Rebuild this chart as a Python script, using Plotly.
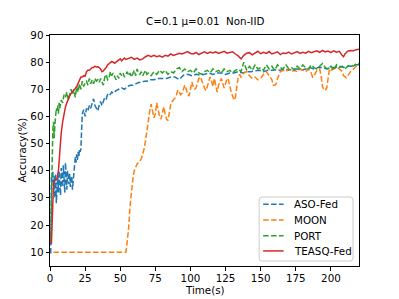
import plotly.graph_objects as go

# ---------------- data ----------------
aso_x = [0.5, 1, 1.5, 2, 2.5, 3, 3.5, 4, 4.5, 5, 5.5, 6, 6.5, 7, 7.5, 8, 8.5, 9, 9.5, 10,
         10.5, 11, 11.5, 12, 12.5, 13, 13.5, 14, 14.5, 15, 15.5, 16, 16.5, 17, 17.5, 18, 18.5,
         19, 19.5, 20, 20.5, 21, 21.5, 22, 22.5, 23, 24, 25, 26, 27, 28, 29, 30, 31, 32, 33,
         34, 35, 36, 37, 38, 39, 40, 41, 42, 43, 44, 45, 47, 49, 51, 53, 55, 57, 59, 61, 63,
         65, 67, 69, 71, 74, 77, 80, 83, 86, 89, 92, 95, 98, 101, 104, 107, 110, 113, 116,
         119, 122, 125, 128, 131, 134, 137, 140, 143, 146, 149, 152, 155, 158, 161, 164, 167,
         170, 173, 176, 179, 182, 185, 188, 191, 194, 197, 200, 203, 206, 209, 212, 215, 218, 220]
aso_y = [9.5, 38, 36, 40, 33, 38, 30, 39, 28, 36, 38, 32, 40, 35, 31, 41, 37, 34, 42, 36,
         32, 43, 38, 33, 40, 36, 35, 39, 34, 37, 38, 33, 36, 37, 40, 45, 43, 46, 44, 47,
         45, 48, 47, 48, 55, 61, 62.5, 60, 63, 62, 64, 63, 65, 66.5, 64, 63, 62, 64, 65.5,
         64, 66, 67, 66.5, 68, 67.5, 68.5, 69, 68.5, 69.5, 70, 70.5, 70, 71, 71.5, 71.5, 72,
         72.5, 72.5, 73, 73, 73.5, 73.5, 74, 74, 74, 74.5, 74.5, 73.6, 75.2, 75.5, 75, 75.5,
         75.2, 75.5, 76, 75.5, 76, 76, 75.5, 76, 76, 76.5, 76, 76.5, 76.5, 76.8, 77, 76.5,
         77, 77, 77.2, 77, 77.5, 77, 77.5, 77.5, 77, 77.5, 78, 77.5, 78, 78, 77.5, 78, 78,
         78.5, 78, 78.5, 78.5, 79, 79]

moon_x = [2.5, 54, 55, 56, 57, 58, 59, 60, 61, 62, 63, 64, 65, 66, 67, 68, 69, 70, 71, 72,
          73, 74, 75, 76, 77, 78, 79, 80, 81, 82, 83, 84, 85, 86, 87, 88, 89, 90, 91, 92, 93,
          94, 95, 96, 97, 98, 99, 100, 101, 102, 103, 104, 105, 106, 107, 108, 109, 110, 111,
          112, 113, 114, 115, 116, 117, 118, 119, 120, 121, 122, 123, 124, 125, 126, 127, 128,
          129, 130, 131, 132, 133, 134, 135, 136, 138, 140, 142, 144, 146, 148, 150, 152, 154,
          156, 158, 159, 160, 161, 162, 164, 166, 168, 170, 172, 174, 176, 178, 180, 182, 184,
          186, 187, 188, 190, 192, 193, 194, 195, 196, 197, 198, 199, 200, 202, 204, 206, 208,
          209, 210, 211, 212, 214, 216, 218, 220]
moon_y = [10, 10, 14, 19, 27, 33, 37, 40, 41.5, 42.5, 43, 43.5, 44.5, 46, 48, 51, 55, 58, 62,
          64.5, 62, 59.5, 61, 65, 62.5, 60, 59, 61, 63.5, 61, 59, 58.5, 61, 64.5, 65.5, 66,
          66.8, 68, 69.7, 69, 68, 68.5, 70, 71.5, 70, 68, 67.5, 70, 72.7, 71, 70, 70.5, 72.5,
          74, 74.6, 73.5, 72, 70.5, 69.5, 71, 73, 74.5, 73, 71, 74, 72, 69, 71.5, 73, 74, 72,
          70.5, 72, 74, 73.5, 71, 69, 67.5, 66, 67, 71, 74.5, 75.5, 74.5, 76, 76.5, 75, 74,
          74.5, 73.5, 74, 75.5, 76.5, 75, 73.5, 71.5, 71.5, 72, 74, 76.5, 77, 76.5, 77.5, 76.5,
          77, 76.5, 77.5, 77, 76.5, 77.5, 76, 74.5, 75, 77, 77.5, 75, 71, 70, 69.5, 70.5, 75,
          77.5, 77, 77.5, 78, 77.5, 76.5, 75, 74.5, 74.3, 75, 76.5, 77.5, 78.5, 79.5]

port_x = [0.5, 1, 1.5, 2, 2.5, 3, 3.5, 4, 4.5, 5, 5.5, 6, 6.5, 7, 8, 9, 10, 11, 12, 13, 14,
          15, 16, 17, 18, 19, 20, 21, 22, 23, 24, 25, 26, 27, 28, 29, 30, 31, 32, 33, 34, 35,
          36, 37, 38, 39, 40, 41, 42, 43, 44, 45, 46, 47, 48, 49, 50, 51, 52, 53, 54, 55, 56,
          57, 58, 59, 60, 61, 62, 63, 64, 65, 66, 67, 68, 69, 70, 72, 74, 76, 78, 80, 82, 84,
          86, 88, 90, 92, 94, 96, 98, 100, 102, 104, 106, 108, 110, 112, 114, 116, 118, 120,
          122, 124, 126, 128, 130, 132, 134, 136, 138, 140, 142, 144, 146, 148, 150, 152, 154,
          156, 158, 160, 162, 164, 166, 168, 170, 172, 174, 176, 178, 180, 182, 184, 186, 188,
          190, 192, 194, 196, 198, 200, 202, 204, 206, 208, 210, 212, 214, 216, 218, 220]
port_y = [14, 35, 45, 55, 58, 52, 57, 60, 63, 62, 64, 61, 65, 63, 66, 65, 68, 67, 69, 66,
          68, 70, 68, 70, 67, 71, 69, 72, 70, 73, 71, 72.5, 73, 71.5, 74, 72, 73.5, 72, 74, 73,
          73.5, 72.5, 74, 73, 71.5, 74.5, 75.5, 73.5, 74, 76.5, 75, 76, 74.5, 73.5, 75, 74, 76,
          75, 76, 74.5, 75.5, 76.5, 75, 76, 74.5, 76, 77, 75, 77.5, 76, 75.5, 76.5, 75, 76, 77,
          75.5, 76, 75, 76.5, 75.5, 77, 76, 77, 75.5, 76.5, 76, 77.5, 78, 76.5, 77.5, 76.5, 77,
          76, 77.5, 76, 75.5, 76.5, 77, 76, 77.5, 76.5, 77, 76, 77.5, 76.5, 77, 76, 77, 77.5,
          76.5, 80, 77, 78.5, 77, 79, 77.5, 78, 77, 79, 77.5, 78.5, 77, 79, 78, 77.5, 79, 77.5,
          78, 77, 78.5, 77.5, 79, 78, 77.5, 79, 78, 77.5, 78.5, 79.5, 78, 77.5, 78.5, 77, 79,
          78, 78.5, 77.5, 78.5, 79, 78.5, 79.5, 79.5]

teasq_x = [1, 1.5, 2, 2.5, 3, 4, 5, 6, 7, 8, 9, 10, 11, 12, 13, 14, 15, 16, 17, 18, 19, 20,
           21, 22, 23, 24, 25, 26, 27, 28, 29, 30, 31, 32, 33, 34, 35, 36, 37, 38, 39, 40, 41,
           42, 43, 44, 45, 46, 47, 48, 49, 50, 51, 52, 53, 54, 56, 58, 60, 62, 64, 66, 68, 70,
           72, 74, 76, 78, 80, 82, 84, 86, 88, 90, 92, 94, 96, 98, 100, 102, 104, 106, 108, 110,
           112, 114, 116, 118, 120, 122, 124, 126, 128, 130, 132, 134, 136, 138, 140, 142, 144,
           146, 148, 150, 152, 154, 156, 158, 160, 162, 164, 166, 168, 170, 172, 174, 176, 178,
           180, 182, 184, 186, 188, 190, 192, 194, 196, 198, 200, 202, 204, 206, 208, 209, 210,
           212, 214, 216, 218, 220]
teasq_y = [13, 22, 33, 35, 36, 36.5, 37, 40, 48, 54, 58, 61.5, 63.5, 65, 66.5, 67.5, 68.5, 69,
           69.8, 70.3, 71, 72, 73, 74.5, 74.5, 75, 74.8, 76.5, 77, 77, 77.5, 78, 78, 78.5, 78.2,
           78.3, 78, 77.5, 76.5, 76.8, 77.5, 78, 79, 79.5, 80, 80.3, 80, 79.6, 80, 80.5, 81,
           81.2, 80.5, 81, 81.5, 81, 81.3, 81.8, 81, 81.5, 80.8, 81.2, 82, 82.5, 82, 82.5, 82,
           82.3, 81.8, 82.5, 82.2, 83, 82.5, 82.8, 83.3, 83, 83.6, 83.9, 83.2, 83, 83.6, 82.8,
           83.3, 83.8, 83.2, 83.7, 83.4, 83.8, 83.2, 83.5, 84, 83.3, 83.5, 83.8, 83, 82.3, 81.2,
           82.5, 83.3, 83.5, 82.7, 83.2, 84, 83.1, 83.6, 83.2, 83.9, 83, 83.3, 83.8, 82.8, 83.4,
           83.2, 83.7, 83, 83.5, 83.9, 83.2, 83.6, 83.3, 84, 83.5, 83.8, 84.2, 83.6, 84.3, 83.8,
           84.1, 83.5, 84.2, 83.7, 84, 82.5, 82, 83, 84, 84.3, 84.2, 84.6, 84.8]

series_names = ["ASO-Fed", "MOON", "PORT", "TEASQ-Fed"]
series_colors = ["#1f77b4", "#ff7f0e", "#2ca02c", "#d62728"]
x_ticks = [0, 25, 50, 75, 100, 125, 150, 175, 200]
y_ticks = [10, 20, 30, 40, 50, 60, 70, 80, 90]

# ---------------- layout geometry (page pixels; page body has an 8px margin) ----------------
OFF = 8
W, H = 399 - OFF, 299 - OFF
PL, PR, PT, PB = 49.5, 359, 35, 266          # plot-area box in page pixels
L, R, T, B = PL - OFF, W - (PR - OFF), PT - OFF, H - (PB - OFF)
PW, PH = PR - PL, PB - PT
FONT = "DejaVu Sans"
FS = 10.3
DASH = "5.5px,2.4px"


def pp(px, py):
    """page pixel -> paper coordinates"""
    return (px - PL) / PW, (PB - py) / PH


xs = [aso_x, moon_x, port_x, teasq_x]
ys = [aso_y, moon_y, port_y, teasq_y]
dashes = [DASH, DASH, DASH, "solid"]

fig = go.Figure()
for name, color, xv, yv, d in zip(series_names, series_colors, xs, ys, dashes):
    fig.add_trace(go.Scatter(x=xv, y=yv, mode="lines", name=name, showlegend=False,
                             line=dict(color=color, width=1.5, dash=d)))

axis_common = dict(showline=True, mirror=True, linecolor="black", linewidth=1,
                   ticks="outside", ticklen=3.5, tickwidth=1, tickcolor="black",
                   showgrid=False, zeroline=False, automargin=False,
                   tickfont=dict(family=FONT, size=FS, color="black"))

shapes = []
annotations = []

# legend box with sample lines and real text labels
bx0, by0 = pp(259, 261)
bx1, by1 = pp(353, 197)
rx, ry = 3 / PW, 3 / PH
path = (f"M {bx0+rx},{by0} L {bx1-rx},{by0} Q {bx1},{by0} {bx1},{by0+ry} "
        f"L {bx1},{by1-ry} Q {bx1},{by1} {bx1-rx},{by1} L {bx0+rx},{by1} "
        f"Q {bx0},{by1} {bx0},{by1-ry} L {bx0},{by0+ry} Q {bx0},{by0} {bx0+rx},{by0} Z")
shapes.append(dict(type="path", xref="paper", yref="paper", path=path,
                   fillcolor="rgba(255,255,255,0.8)", line=dict(color="#cccccc", width=1),
                   layer="above"))
row_y = [204.3, 220, 235.7, 250.9]
for name, color, d, ry_px in zip(series_names, series_colors, dashes, row_y):
    lx0, ly = pp(263, ry_px)
    lx1, _ = pp(283.5, ry_px)
    shapes.append(dict(type="line", xref="paper", yref="paper", x0=lx0, x1=lx1, y0=ly, y1=ly,
                       line=dict(color=color, width=1.5, dash=d), layer="above"))
    tx, _ = pp(292.5, ry_px)
    annotations.append(dict(text=name, xref="paper", yref="paper", x=tx, y=ly,
                            xanchor="left", yanchor="middle", showarrow=False, borderpad=0,
                            font=dict(family=FONT, size=FS, color="black")))

# axis titles
ax_x, ax_y = pp((PL + PR) / 2, 289.5)
annotations.append(dict(text="Time(s)", xref="paper", yref="paper", x=ax_x, y=ax_y,
                        xanchor="center", yanchor="middle", showarrow=False, borderpad=0,
                        font=dict(family=FONT, size=FS, color="black")))
ay_x, ay_y = pp(20.5, (PT + PB) / 2)
annotations.append(dict(text="Accuracy(%)", xref="paper", yref="paper", x=ay_x, y=ay_y,
                        xanchor="center", yanchor="middle", showarrow=False, textangle=-90,
                        borderpad=0, font=dict(family=FONT, size=FS, color="black")))
# title
tt_x, tt_y = pp((PL + PR) / 2, 21)
annotations.append(dict(text="C=0.1 μ=0.01\u00a0 Non-IID", xref="paper", yref="paper",
                        x=tt_x, y=tt_y, xanchor="center", yanchor="middle", showarrow=False,
                        borderpad=0, font=dict(family=FONT, size=FS, color="black")))

fig.update_layout(
    width=W, height=H,
    margin=dict(l=L, r=R, t=T, b=B),
    paper_bgcolor="white", plot_bgcolor="white",
    font=dict(family=FONT, size=FS, color="black"),
    xaxis=dict(range=[0, 220], tickvals=x_ticks, ticklabelstandoff=-1, **axis_common),
    yaxis=dict(range=[4.9, 90], tickvals=y_ticks, **axis_common),
    showlegend=False,
    shapes=shapes,
    annotations=annotations,
)

fig.write_html("out.html")
